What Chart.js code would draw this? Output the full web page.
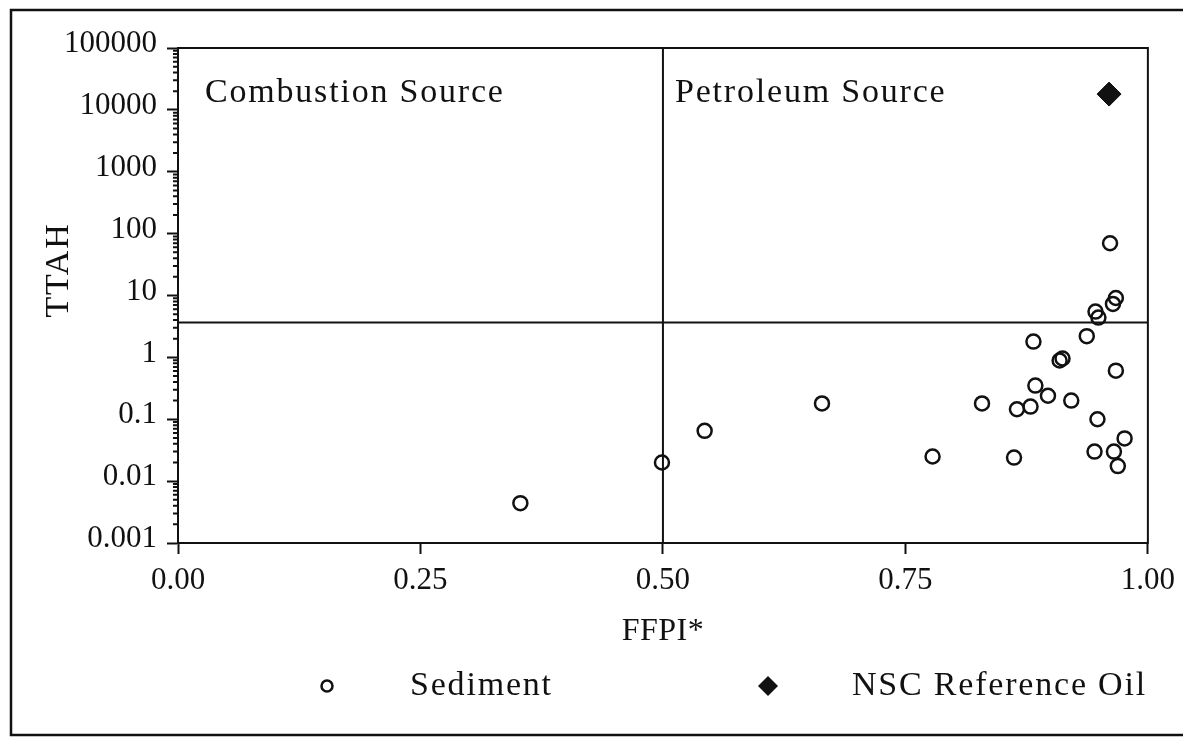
<!DOCTYPE html>
<html>
<head>
<meta charset="utf-8">
<title>TTAH vs FFPI*</title>
<script src="https://cdn.jsdelivr.net/npm/chart.js@4"></script>
<style>
  html, body { margin: 0; padding: 0; background: #ffffff; }
  canvas { display: block; }
</style>
</head>
<body>
<canvas id="chart" width="1183" height="739"></canvas>
<script>
// Sediment samples: FFPI* (x) and TTAH (y)
const sedimentFFPI = [0.353, 0.499, 0.543, 0.664, 0.778, 0.829, 0.967, 0.964, 0.946, 0.949,
                      0.937, 0.882, 0.912, 0.909, 0.967, 0.884, 0.897, 0.865, 0.879, 0.921,
                      0.948, 0.976, 0.862, 0.945, 0.965, 0.969, 0.961];
const sedimentTTAH = [0.0044, 0.020, 0.065, 0.18, 0.025, 0.18, 9.1, 7.3, 5.5, 4.4,
                      2.2, 1.8, 0.96, 0.89, 0.61, 0.35, 0.24, 0.145, 0.16, 0.20,
                      0.10, 0.049, 0.024, 0.030, 0.030, 0.0175, 70];

// NSC reference oil
const oilFFPI = [0.960];
const oilTTAH = [18000];

// Source-division thresholds
const ffpiThreshold = 0.5;
const ttahThreshold = 3.66;

// Axis ticks
const xTickValues = [0, 0.25, 0.5, 0.75, 1];
const xTickLabels = ['0.00', '0.25', '0.50', '0.75', '1.00'];
const yTickValues = [0.001, 0.01, 0.1, 1, 10, 100, 1000, 10000, 100000];
const yTickLabels = ['0.001', '0.01', '0.1', '1', '10', '100', '1000', '10000', '100000'];
const yMinorMultipliers = [2, 3, 4, 5, 6, 7, 8, 9];

// Text
const xTitle = 'FFPI*';
const yTitle = 'TTAH';
const regionLabels = ['Combustion Source', 'Petroleum Source'];
const legendLabels = ['Sediment', 'NSC Reference Oil'];

const SERIF = '"Liberation Serif", "Times New Roman", serif';
const INK = '#111111';

const toPoints = (xs, ys) => xs.map((x, i) => ({ x: x, y: ys[i] }));

// Minor log ticks, plot frame, titles, region labels, legend and page frame
const decorations = {
  id: 'decorations',
  afterDraw(chart) {
    const ctx = chart.ctx;
    const area = chart.chartArea;
    const ys = chart.scales.y;
    ctx.save();
    ctx.strokeStyle = INK;
    ctx.fillStyle = INK;

    // minor ticks on the log axis
    ctx.lineWidth = 2;
    ctx.beginPath();
    for (let i = 0; i < yTickValues.length - 1; i++) {
      for (const m of yMinorMultipliers) {
        const py = ys.getPixelForValue(yTickValues[i] * m);
        ctx.moveTo(area.left - 5, py);
        ctx.lineTo(area.left, py);
      }
    }
    ctx.stroke();

    // plot box
    ctx.lineWidth = 2;
    ctx.strokeRect(area.left, area.top, area.right - area.left, area.bottom - area.top);

    // page frame
    ctx.lineWidth = 2.5;
    ctx.strokeRect(11, 10, 1200, 725);

    // region labels
    ctx.font = '34px ' + SERIF;
    ctx.letterSpacing = '1.8px';
    ctx.textAlign = 'left';
    ctx.textBaseline = 'alphabetic';
    ctx.fillText(regionLabels[0], 205, 102);
    ctx.fillText(regionLabels[1], 675, 102);

    // axis titles
    ctx.font = '32px ' + SERIF;
    ctx.letterSpacing = '0.5px';
    ctx.textAlign = 'center';
    ctx.fillText(xTitle, (area.left + area.right) / 2, 640);

    ctx.save();
    ctx.font = '34px ' + SERIF;
    ctx.letterSpacing = '1.8px';
    ctx.translate(68, 270);
    ctx.rotate(-Math.PI / 2);
    ctx.fillText(yTitle, 0, 0);
    ctx.restore();

    // legend
    ctx.lineWidth = 2.5;
    ctx.beginPath();
    ctx.arc(327, 686, 5.5, 0, Math.PI * 2);
    ctx.stroke();

    ctx.beginPath();
    ctx.moveTo(768 - 10, 686);
    ctx.lineTo(768, 686 - 10);
    ctx.lineTo(768 + 10, 686);
    ctx.lineTo(768, 686 + 10);
    ctx.closePath();
    ctx.fill();

    ctx.font = '34px ' + SERIF;
    ctx.letterSpacing = '1.8px';
    ctx.textAlign = 'left';
    ctx.fillText(legendLabels[0], 410, 695);
    ctx.fillText(legendLabels[1], 852, 695);

    ctx.restore();
  }
};

new Chart(document.getElementById('chart'), {
  type: 'scatter',
  data: {
    datasets: [
      {
        label: legendLabels[0],
        data: toPoints(sedimentFFPI, sedimentTTAH),
        pointStyle: 'circle',
        pointRadius: 7,
        pointBorderWidth: 2.5,
        pointBorderColor: INK,
        pointBackgroundColor: 'rgba(0,0,0,0)',
        order: 1
      },
      {
        label: legendLabels[1],
        data: toPoints(oilFFPI, oilTTAH),
        pointStyle: 'rectRot',
        pointRadius: 12,
        pointBorderWidth: 1,
        pointBorderColor: INK,
        pointBackgroundColor: INK,
        order: 0
      },
      {
        label: 'ttah-threshold',
        data: [{ x: 0, y: ttahThreshold }, { x: 1, y: ttahThreshold }],
        showLine: true,
        borderColor: INK,
        borderWidth: 2,
        pointRadius: 0,
        order: 3
      },
      {
        label: 'ffpi-threshold',
        data: [{ x: ffpiThreshold, y: 0.001 }, { x: ffpiThreshold, y: 100000 }],
        showLine: true,
        borderColor: INK,
        borderWidth: 2,
        pointRadius: 0,
        order: 3
      }
    ]
  },
  options: {
    responsive: false,
    devicePixelRatio: 1,
    animation: false,
    layout: { padding: { top: 48, right: 34, left: 0, bottom: 0 } },
    plugins: {
      legend: { display: false },
      tooltip: { enabled: false }
    },
    scales: {
      x: {
        type: 'linear',
        min: 0,
        max: 1,
        afterBuildTicks: (scale) => { scale.ticks = xTickValues.map(v => ({ value: v })); },
        afterFit: (scale) => { scale.height = 196; },
        ticks: {
          autoSkip: false,
          maxRotation: 0,
          padding: 8,
          color: INK,
          font: { family: SERIF, size: 31 },
          callback: (value) => xTickLabels[xTickValues.indexOf(value)]
        },
        grid: {
          display: true,
          drawOnChartArea: false,
          drawTicks: true,
          tickLength: 11,
          tickWidth: 2,
          tickColor: INK,
          color: INK
        },
        border: { display: true, color: INK, width: 2 }
      },
      y: {
        type: 'logarithmic',
        min: 0.001,
        max: 100000,
        afterBuildTicks: (scale) => { scale.ticks = yTickValues.map(v => ({ value: v, major: false })); },
        afterFit: (scale) => { scale.width = 178; },
        ticks: {
          autoSkip: false,
          padding: 10,
          labelOffset: -4,
          color: INK,
          font: { family: SERIF, size: 31 },
          callback: (value) => yTickLabels[yTickValues.indexOf(value)]
        },
        grid: {
          display: true,
          drawOnChartArea: false,
          drawTicks: true,
          tickLength: 11,
          tickWidth: 2,
          tickColor: INK,
          color: INK
        },
        border: { display: true, color: INK, width: 2 }
      }
    }
  },
  plugins: [decorations]
});
</script>
</body>
</html>
